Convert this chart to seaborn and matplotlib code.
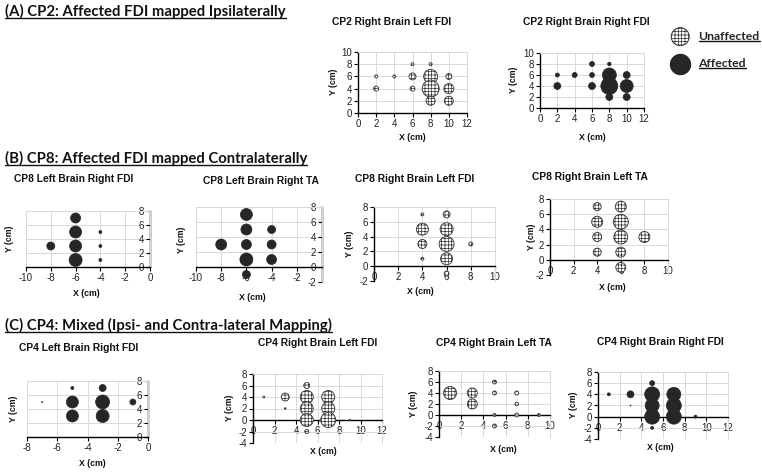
import numpy as np
import pandas as pd
import matplotlib
matplotlib.use('Agg')
import matplotlib.pyplot as plt
import seaborn as sns
from matplotlib.lines import Line2D

sns.set_style('white')
plt.rcParams['font.family'] = ['Liberation Sans', 'DejaVu Sans']
plt.rcParams['hatch.linewidth'] = 0.5
plt.rcParams['axes.unicode_minus'] = False

W, H = 762, 472
fig = plt.figure(figsize=(W / 100, H / 100), dpi=100)

# ---------------- data ----------------
# (A) CP2
cp2_lfdi_x = [2, 2, 4, 6, 6, 6, 8, 8, 8, 8, 10, 10, 10]
cp2_lfdi_y = [6, 4, 6, 8, 6, 4, 8, 6, 4, 2, 6, 4, 2]
cp2_lfdi_s = [3, 5, 3, 3, 7, 5, 3, 14, 17, 9, 6, 10, 9]

cp2_rfdi_x = [2, 2, 4, 6, 6, 6, 8, 8, 8, 8, 10, 10, 10]
cp2_rfdi_y = [6, 4, 6, 8, 6, 4, 8, 6, 4, 2, 6, 4, 2]
cp2_rfdi_s = [4, 7, 5, 5, 5, 7, 3.5, 14, 17, 7, 7, 13, 7]

# (B) CP8
cp8_lb_fdi_x = [-8, -6, -6, -6, -6, -4, -4, -4]
cp8_lb_fdi_y = [3, 7, 5, 3, 1, 5, 3, 1]
cp8_lb_fdi_s = [8, 10, 12, 12, 13, 3, 3, 3]

cp8_lb_ta_x = [-8, -6, -6, -6, -6, -6, -4, -4, -4]
cp8_lb_ta_y = [3, 7, 5, 3, 1, -1, 5, 3, 1]
cp8_lb_ta_s = [11, 12, 11, 10, 13, 8, 8, 9, 10]

cp8_rb_fdi_x = [4, 4, 4, 4, 6, 6, 6, 6, 6, 8]
cp8_rb_fdi_y = [7, 5, 3, 1, 7, 5, 3, 1, -1, 3]
cp8_rb_fdi_s = [3, 12, 9, 3, 7, 13, 15, 12, 5, 4]

cp8_rb_ta_x = [4, 4, 4, 4, 6, 6, 6, 6, 6, 8]
cp8_rb_ta_y = [7, 5, 3, 1, 7, 5, 3, 1, -1, 3]
cp8_rb_ta_s = [8, 11, 9, 8, 11, 15, 14, 10, 10, 11]

# (C) CP4
cp4_lb_fdi_x = [-7, -5, -5, -5, -3, -3, -3, -1]
cp4_lb_fdi_y = [5, 7, 5, 3, 7, 5, 3, 5]
cp4_lb_fdi_s = [1, 3, 12, 12, 7, 14, 13, 6]

cp4_rb_lfdi_x = [1, 3, 3, 5, 5, 5, 5, 5, 7, 7, 7, 9]
cp4_rb_lfdi_y = [4, 4, 2, 6, 4, 2, 0, -2, 4, 2, 0, 0]
cp4_rb_lfdi_s = [2, 8, 1.5, 6, 13, 13, 13, 4, 13, 13, 15, 1.5]

cp4_rb_lta_x = [1, 3, 3, 5, 5, 5, 5, 7, 7, 7, 9]
cp4_rb_lta_y = [4, 4, 2, 6, 4, 0, -2, 4, 2, 0, 0]
cp4_rb_lta_s = [13, 10, 10, 4, 4, 3, 4, 4, 3.5, 4, 3]

cp4_rb_rfdi_x = [1, 3, 3, 5, 5, 5, 5, 5, 7, 7, 7, 9]
cp4_rb_rfdi_y = [4, 4, 2, 6, 4, 2, 0, -2, 4, 2, 0, 0]
cp4_rb_rfdi_s = [3, 7, 1, 5, 15, 14, 15, 3, 14, 15, 15, 3]

FILL = '#262626'
GRID = '#d9d9d9'


def ftext(xpx, ypx, s, **kw):
    return fig.text(xpx / W, 1 - ypx / H, s, **kw)


def panel(rect, xs, ys, ss, affected, xlim, ylim, xticks, yticks, title,
          tpos, xlpos, ylpos, yzero=False, xzero=False, xticklabels=None):
    x0, x1, y0, y1 = rect
    ax = fig.add_axes([x0 / W, 1 - y1 / H, (x1 - x0) / W, (y1 - y0) / H])
    df = pd.DataFrame({'x': xs, 'y': ys, 's': ss})
    sizes = {v: (v * 0.72) ** 2 for v in df['s'].unique()}
    if affected:
        kw = dict(color=FILL, edgecolor=FILL, linewidth=0.5)
    else:
        kw = dict(color='white', edgecolor='#333333', linewidth=0.6,
                  hatch='+++++')
    sns.scatterplot(data=df, x='x', y='y', size='s', sizes=sizes,
                    legend=False, ax=ax, zorder=3, clip_on=False, **kw)
    ax.set_xlim(*xlim)
    ax.set_ylim(*ylim)
    ax.set_xticks(xticks)
    ax.set_yticks(yticks)
    if xticklabels is not None:
        ax.set_xticklabels(xticklabels)
    ax.set_xlabel('')
    ax.set_ylabel('')
    ax.grid(True, color=GRID, lw=0.7)
    ax.set_axisbelow(True)
    for sp in ('top', 'right'):
        ax.spines[sp].set_color(GRID)
        ax.spines[sp].set_linewidth(0.7)
    for sp in ('left', 'bottom'):
        ax.spines[sp].set_color('black')
        ax.spines[sp].set_linewidth(1.0)
    if yzero:
        ax.spines['left'].set_position(('data', 0))
    if xzero:
        ax.spines['bottom'].set_position(('data', 0))
    ax.tick_params(axis='both', labelsize=7, length=3, width=0.8,
                   direction='out', pad=1.5, colors='black', labelcolor='#222222')
    ax.tick_params(axis='both', which='both', left=True, bottom=True)
    ftext(tpos[0], tpos[1], title, ha='center', va='center', fontsize=7.4,
          fontweight='bold', color='#111111')
    ftext(xlpos[0], xlpos[1], 'X (cm)', ha='center', va='center', fontsize=6.3,
          fontweight='bold', color='#111111')
    ftext(ylpos[0], ylpos[1], 'Y (cm)', ha='center', va='center', fontsize=6.3,
          fontweight='bold', color='#111111', rotation=90)
    return ax


# (A)
panel((358, 467, 52, 113), cp2_lfdi_x, cp2_lfdi_y, cp2_lfdi_s, False,
      (0, 12), (0, 10), range(0, 13, 2), range(0, 11, 2),
      'CP2 Right Brain Left FDI', (392, 22), (412, 138), (333, 82))
ax_leg = panel((540, 644, 53, 108), cp2_rfdi_x, cp2_rfdi_y, cp2_rfdi_s, True,
               (0, 12), (0, 10), range(0, 13, 2), range(0, 11, 2),
               'CP2 Right Brain Right FDI', (586, 22), (592, 137), (513, 80))

# (B)
panel((26, 150, 211, 267), cp8_lb_fdi_x, cp8_lb_fdi_y, cp8_lb_fdi_s, True,
      (-10, 0), (0, 8), range(-10, 1, 2), range(0, 9, 2),
      'CP8 Left Brain Right FDI', (74, 179), (86, 293), (9, 239), yzero=True)
panel((196, 322, 207, 282), cp8_lb_ta_x, cp8_lb_ta_y, cp8_lb_ta_s, True,
      (-10, 0), (-2, 8), range(-10, 1, 2), range(-2, 9, 2),
      'CP8 Left Brain Right TA', (261, 181), (252, 297), (181, 240),
      yzero=True, xzero=True, xticklabels=['-10', '-8', '-6', '-4', '-2', ''])
panel((374, 495, 207, 281), cp8_rb_fdi_x, cp8_rb_fdi_y, cp8_rb_fdi_s, False,
      (0, 10), (-2, 8), range(0, 11, 2), range(-2, 9, 2),
      'CP8 Right Brain Left FDI', (415, 179), (420, 292), (350, 244), xzero=True)
panel((550, 668, 199, 275), cp8_rb_ta_x, cp8_rb_ta_y, cp8_rb_ta_s, False,
      (0, 10), (-2, 8), range(0, 11, 2), range(-2, 9, 2),
      'CP8 Right Brain Left TA', (590, 177), (612, 287), (531, 237), xzero=True)

# (C)
panel((27, 148, 381, 437), cp4_lb_fdi_x, cp4_lb_fdi_y, cp4_lb_fdi_s, True,
      (-8, 0), (0, 8), range(-8, 1, 2), range(0, 9, 2),
      'CP4 Left Brain Right FDI', (79, 348), (92, 463), (13, 409), yzero=True)
panel((253, 382, 374, 443), cp4_rb_lfdi_x, cp4_rb_lfdi_y, cp4_rb_lfdi_s, False,
      (0, 12), (-4, 8), range(0, 13, 2), range(-4, 9, 2),
      'CP4 Right Brain Left FDI', (318, 343), (323, 452), (229, 408), xzero=True)
panel((439, 550, 371, 437), cp4_rb_lta_x, cp4_rb_lta_y, cp4_rb_lta_s, False,
      (0, 10), (-4, 8), range(0, 11, 2), range(-4, 9, 2),
      'CP4 Right Brain Left TA', (494, 343), (503, 449), (413, 404), xzero=True)
panel((598, 728, 372, 439), cp4_rb_rfdi_x, cp4_rb_rfdi_y, cp4_rb_rfdi_s, True,
      (0, 12), (-4, 8), range(0, 13, 2), range(-4, 9, 2),
      'CP4 Right Brain Right FDI', (660, 342), (660, 447), (573, 405), xzero=True)

# legend
h_un = ax_leg.scatter([], [], s=(18 * 0.72) ** 2, color='white',
                      edgecolor='#333333', linewidth=0.7, hatch='+++++')
h_af = ax_leg.scatter([], [], s=(20 * 0.72) ** 2, color=FILL, edgecolor=FILL)
leg = fig.legend([h_un, h_af], ['Unaffected', 'Affected'], loc='upper left',
                 bbox_to_anchor=(668 / W, 1 - 26 / H), frameon=False,
                 handletextpad=0.9, labelspacing=1.3, borderaxespad=0,
                 prop={'family': 'Lato', 'weight': 'bold', 'size': 8.8},
                 handlelength=1.2, scatterpoints=1)

# section titles
sec = []
for txt, yb in [('(A) CP2: Affected FDI mapped Ipsilaterally', 16),
                ('(B) CP8: Affected FDI mapped Contralaterally', 163),
                ('(C) CP4: Mixed (Ipsi- and Contra-lateral Mapping)', 330)]:
    sec.append(ftext(5, yb, txt, ha='left', va='baseline', fontsize=10.7,
                     fontweight='bold', family='Lato', color='#111111'))

fig.canvas.draw()


def underline(t, off=2.0, lw=1.0):
    bb = t.get_window_extent()
    yb = t.get_position()[1] * H - off
    fig.add_artist(Line2D([bb.x0 / W, bb.x1 / W], [yb / H, yb / H],
                          transform=fig.transFigure, color='#111111', lw=lw))


for t in sec:
    underline(t)
for t in leg.get_texts():
    bb = t.get_window_extent()
    yb = bb.y0 + 1
    fig.add_artist(Line2D([bb.x0 / W, bb.x1 / W], [yb / H, yb / H],
                          transform=fig.transFigure, color='#111111', lw=1.0))

fig.savefig('out.png', dpi=100)
